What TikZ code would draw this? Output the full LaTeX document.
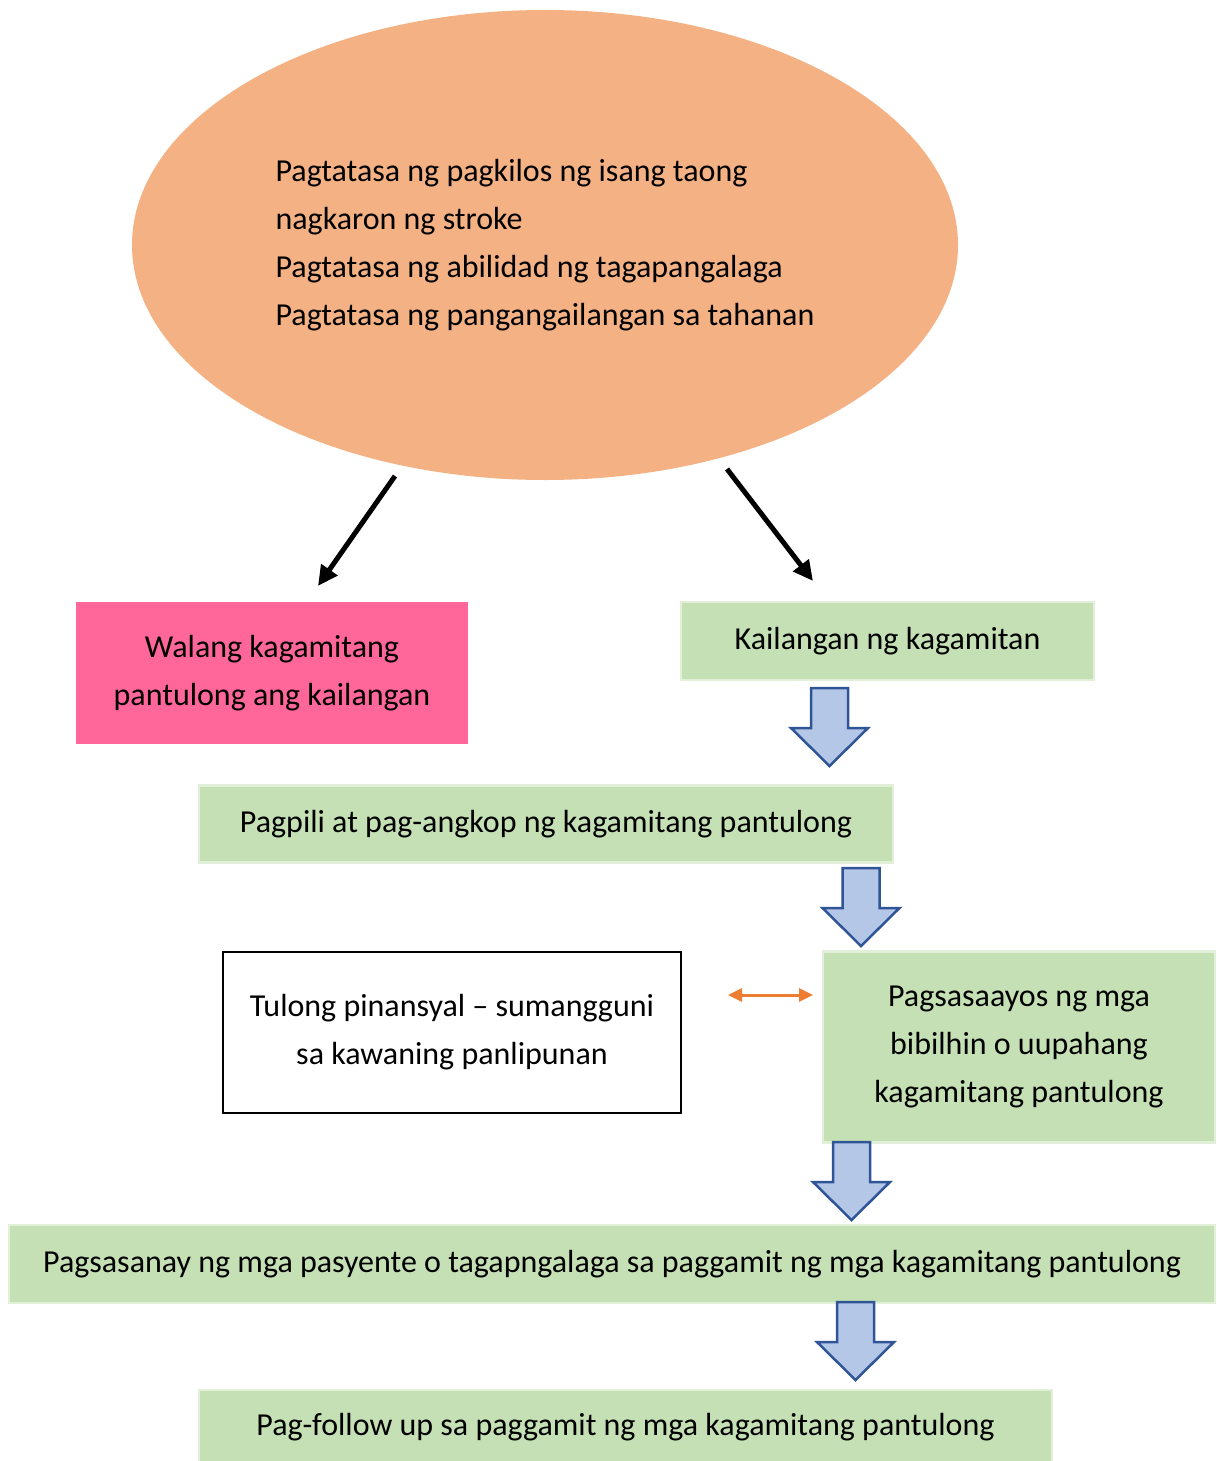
\documentclass[tikz,border=0pt]{standalone}
\usepackage{fontspec}
\setmainfont{Carlito}
\usetikzlibrary{shapes,arrows.meta,positioning,calc}

\begin{document}
\begin{tikzpicture}[x=1pt, y=-1pt, every node/.style={font=\fontsize{32}{48}\selectfont, align=center, inner sep=0pt}]
        \definecolor{strokeorange}{RGB}{244,177,131}
        \definecolor{nopink}{RGB}{255,102,153}
        \definecolor{stepgreen}{RGB}{197,224,180}
        \definecolor{stepedge}{RGB}{226,240,217}
        \definecolor{blockblue}{RGB}{180,199,231}
        \definecolor{blockedge}{RGB}{47,85,151}
        \definecolor{linkorange}{RGB}{237,125,49}

        \tikzset{
            greenbox/.style={draw=stepedge, fill=stepgreen, line width=2.5pt},
            blockarrow/.style={draw=blockedge, fill=blockblue, line width=2.5pt, line join=miter},
            blackarrow/.style={-{Triangle[length=20pt,width=19pt]}, line width=5pt, black},
        }

        \clip (0,0) rectangle (1217,1461);

        % Assessment ellipse
        \node[ellipse, fill=strokeorange, minimum width=826pt, minimum height=470pt, align=left] (assess) at (545,245)
            {Pagtatasa ng pagkilos ng isang taong\\nagkaron ng stroke\\Pagtatasa ng abilidad ng tagapangalaga\\Pagtatasa ng pangangailangan sa tahanan};

        % No device needed box
        \node[fill=nopink, minimum width=392pt, minimum height=142pt] (walang) at (272,673)
            {Walang kagamitang\\pantulong ang kailangan};

        % Device needed box
        \node[greenbox, minimum width=413pt, minimum height=78pt] (kailangan) at (887.5,641) {Kailangan ng kagamitan};

        % Steps
        \node[greenbox, minimum width=694pt, minimum height=77pt] (pagpili) at (546,824)
            {Pagpili at pag-angkop ng kagamitang pantulong};
        \node[draw=black, line width=1.2pt, fill=white, minimum width=458pt, minimum height=161pt] (tulong) at (452,1032.5)
            {Tulong pinansyal -- sumangguni\\sa kawaning panlipunan};
        \node[greenbox, minimum width=392pt, minimum height=191pt] (pagsasaayos) at (1019,1047)
            {Pagsasaayos ng mga\\bibilhin o uupahang\\kagamitang pantulong};
        \node[greenbox, minimum width=1206pt, minimum height=78pt] (pagsasanay) at (612,1264)
            {Pagsasanay ng mga pasyente o tagapngalaga sa paggamit ng mga kagamitang pantulong};
        \node[greenbox, minimum width=853pt, minimum height=74pt] (followup) at (625.5,1427)
            {Pag-follow up sa paggamit ng mga kagamitang pantulong};

        % Arrow ends
        \coordinate (leftstart) at (395,476);
        \coordinate (leftend) at (318,586);
        \coordinate (rightstart) at (727,469);
        \coordinate (rightend) at (813,581);
        \coordinate (linkleft) at (728,995);
        \coordinate (linkright) at (813,995);

        % Arrows
        \draw[blackarrow] (leftstart) -- (leftend);
        \draw[blackarrow] (rightstart) -- (rightend);
        \draw[{Triangle[length=14pt,width=13pt]}-{Triangle[length=14pt,width=13pt]}, line width=3pt, linkorange] (linkleft) -- (linkright);

        % Block arrows between steps
        \foreach \bx/\by in {829.5/688, 861/868, 851.5/1142, 855.5/1302}
            \draw[blockarrow] (\bx-18.5,\by) -- (\bx+18.5,\by) -- (\bx+18.5,\by+40) -- (\bx+38.5,\by+40)
                -- (\bx,\by+78) -- (\bx-38.5,\by+40) -- (\bx-18.5,\by+40) -- cycle;
\end{tikzpicture}
\end{document}
